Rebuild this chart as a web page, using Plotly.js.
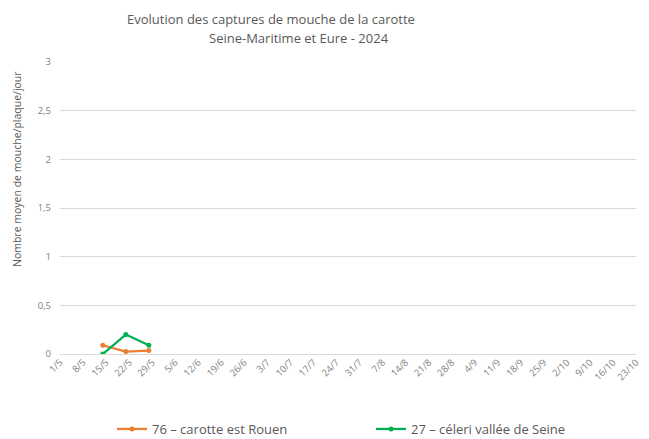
<!DOCTYPE html>
<html>
<head>
<meta charset="utf-8">
<script src="https://cdn.plot.ly/plotly-3.0.1.min.js"></script>
<style>html,body{margin:0;padding:0;background:#fff;}#chart{width:649px;height:439px;}</style>
</head>
<body>
<div id="chart"></div>
<script>
// Weekly tick dates (2024) and their labels
const tickDates = ["2024-05-01","2024-05-08","2024-05-15","2024-05-22","2024-05-29","2024-06-05","2024-06-12","2024-06-19","2024-06-26","2024-07-03","2024-07-10","2024-07-17","2024-07-24","2024-07-31","2024-08-07","2024-08-14","2024-08-21","2024-08-28","2024-09-04","2024-09-11","2024-09-18","2024-09-25","2024-10-02","2024-10-09","2024-10-16","2024-10-23"];
const tickLabels = ["1/5","8/5","15/5","22/5","29/5","5/6","12/6","19/6","26/6","3/7","10/7","17/7","24/7","31/7","7/8","14/8","21/8","28/8","4/9","11/9","18/9","25/9","2/10","9/10","16/10","23/10"];

// Y-axis ticks
const yTickVals = [0, 0.5, 1, 1.5, 2, 2.5, 3];
const yTickLabels = ["0", "0,5", "1", "1,5", "2", "2,5", "3"];

// Observation dates and series values
const obsDates = ["2024-05-14","2024-05-21","2024-05-28"];
const carotteRouen = [0.09, 0.025, 0.035];
const celeriSeine = [0.0, 0.2, 0.09];

const seriesNames = ["76 – carotte est Rouen", "27 – céleri vallée de Seine"];
const grey = "#595959";
const fontFam = "Open Sans, sans-serif";

const traces = [
  {x: obsDates, y: carotteRouen, name: seriesNames[0], type: "scatter", mode: "lines+markers",
   line: {color: "#ED7D31", width: 2.25}, marker: {color: "#ED7D31", size: 5}},
  {x: obsDates, y: celeriSeine, name: seriesNames[1], type: "scatter", mode: "lines+markers",
   line: {color: "#00B050", width: 2.25}, marker: {color: "#00B050", size: 5}}
];

const layout = {
  width: 649, height: 439,
  margin: {l: 60, r: 13, t: 62, b: 85},
  paper_bgcolor: "#fff", plot_bgcolor: "#fff",
  font: {family: fontFam, color: grey, size: 10},
  showlegend: true,
  legend: {orientation: "h", x: 112/649, xanchor: "left", xref: "container",
           y: 10/439, yanchor: "middle", yref: "container",
           font: {size: 13, color: grey, family: fontFam}, entrywidth: 214, itemwidth: 30},
  xaxis: {type: "date", range: ["2024-05-01","2024-10-23"], tickmode: "array",
          tickvals: tickDates, ticktext: tickLabels, tickangle: -45, automargin: false,
          tickfont: {size: 9.5, color: "#7f7f7f"}, showgrid: false, zeroline: false,
          showline: false, ticks: ""},
  yaxis: {range: [0, 3], tickmode: "array", tickvals: yTickVals, ticktext: yTickLabels,
          automargin: false,
          gridcolor: "#d9d9d9", gridwidth: 1, zeroline: true, zerolinecolor: "#d9d9d9",
          showline: false, ticks: "", ticklabelstandoff: 8,
          tickfont: {size: 9.5, color: "#7f7f7f"}},
  annotations: [
    {text: "Evolution des captures de mouche de la carotte", xref: "paper", yref: "paper",
     x: (271-60)/576, y: 1, yshift: 43, xanchor: "center", yanchor: "middle", showarrow: false,
     font: {size: 13, color: grey, family: fontFam}},
    {text: "Seine-Maritime et Eure - 2024", xref: "paper", yref: "paper",
     x: (299-60)/576, y: 1, yshift: 24, xanchor: "center", yanchor: "middle", showarrow: false,
     font: {size: 13, color: grey, family: fontFam}},
    {text: "Nombre moyen de mouche/plaque/jour", xref: "paper", yref: "paper",
     x: 0, xshift: -43, y: (354-169)/292, textangle: -90, xanchor: "center", yanchor: "middle",
     showarrow: false, font: {size: 10.5, color: grey, family: fontFam}}
  ]
};

Plotly.newPlot("chart", traces, layout, {displayModeBar: false, staticPlot: true});
</script>
</body>
</html>
